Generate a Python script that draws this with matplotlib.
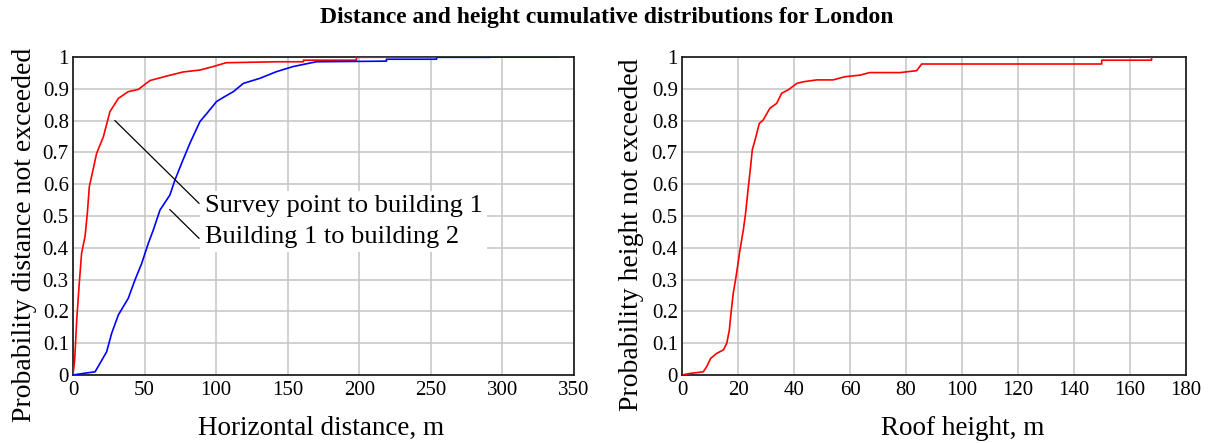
import matplotlib
matplotlib.use("Agg")
import matplotlib.pyplot as plt

# ---------------- data ----------------
sp_to_b1_x = [0, 0.5, 1.2, 2.6, 4.2, 6.0, 8.4, 10.0, 11.4, 16.5, 21.2, 25.8, 31.7, 38.6, 45.6,
              53.8, 65.4, 77, 88.7, 98, 107, 142, 161, 161, 198, 198, 284]
sp_to_b1_y = [0, 0.02, 0.05, 0.173, 0.278, 0.383, 0.435, 0.508, 0.592, 0.697, 0.749, 0.828, 0.870,
              0.891, 0.898, 0.926, 0.940, 0.953, 0.959, 0.970, 0.982, 0.985, 0.985, 0.990, 0.990,
              0.999, 1.0]

b1_to_b2_x = [0, 7.2, 15.4, 18.9, 23.5, 27, 31.7, 38.6, 43.3, 48, 52.6, 56.1, 60.8, 67.7, 71.2,
              75.9, 81.7, 88.7, 94.5, 100.3, 105, 112, 119, 130.6, 142.2, 153.8, 170, 219, 219,
              254, 254, 292, 292, 339]
b1_to_b2_y = [0, 0.005, 0.01, 0.037, 0.073, 0.131, 0.189, 0.241, 0.299, 0.351, 0.414, 0.456,
              0.519, 0.566, 0.613, 0.666, 0.729, 0.797, 0.828, 0.860, 0.873, 0.891, 0.917, 0.933,
              0.954, 0.970, 0.985, 0.987, 0.993, 0.993, 0.999, 0.999, 1.0, 1.0]

roof_x = [0, 2.9, 7.6, 8.8, 10.2, 12.4, 14.8, 16.0, 16.9, 17.5, 18.3, 19.3, 20.7, 21.9, 22.7,
          23.7, 24.5, 25.1, 26.4, 27.6, 29.0, 31.4, 33.8, 35.6, 38.0, 41.0, 43.3, 48.1, 54.0,
          58.2, 63.6, 67.0, 77.9, 83.8, 85.6, 149.9, 149.9, 167.7, 167.7]
roof_y = [0, 0.005, 0.01, 0.026, 0.052, 0.068, 0.079, 0.10, 0.141, 0.194, 0.257, 0.309, 0.393,
          0.456, 0.508, 0.592, 0.655, 0.708, 0.749, 0.791, 0.802, 0.839, 0.854, 0.886, 0.897,
          0.917, 0.922, 0.928, 0.928, 0.938, 0.943, 0.951, 0.951, 0.957, 0.978, 0.978, 0.990,
          0.990, 1.0]

y_ticks = [0, 0.1, 0.2, 0.3, 0.4, 0.5, 0.6, 0.7, 0.8, 0.9, 1]
y_tick_labels = ["0", "0.1", "0.2", "0.3", "0.4", "0.5", "0.6", "0.7", "0.8", "0.9", "1"]
left_x_ticks = [0, 50, 100, 150, 200, 250, 300, 350]
right_x_ticks = [0, 20, 40, 60, 80, 100, 120, 140, 160, 180]

title = "Distance and height cumulative distributions for London"
legend_lines = ["Survey point to building 1", "Building 1 to building 2"]

# ---------------- figure ----------------
FONT = "Liberation Serif"
plt.rcParams["font.family"] = FONT

fig = plt.figure(figsize=(12.14, 4.43), dpi=100)
ax1 = fig.add_axes([73 / 1214, 1 - 375 / 443, (574 - 73) / 1214, (375 - 57) / 443])
ax2 = fig.add_axes([682 / 1214, 1 - 375 / 443, (1186 - 682) / 1214, (375 - 57) / 443])

fig.text(0.5, 1 - 18 / 443, title, ha="center", va="center", fontsize=17,
         fontweight="bold", family=FONT)

for ax, xt, xl, yl, xlx, ylx in [(ax1, left_x_ticks, "Horizontal distance, m",
                                  "Probability distance not exceeded", 0.495, -36 / 501),
                                 (ax2, right_x_ticks, "Roof height, m",
                                  "Probability height not exceeded", 0.557, -38 / 504)]:
    ax.set_xlim(xt[0], xt[-1])
    ax.set_ylim(0, 1)
    ax.set_xticks(xt)
    ax.set_xticklabels([str(v) for v in xt])
    ax.set_yticks(y_ticks)
    ax.set_yticklabels(y_tick_labels)
    ax.tick_params(length=0, labelsize=15, pad=4, colors="black")
    ax.tick_params(axis="y", pad=3)
    ax.grid(True, color="#c8c8c8", linewidth=1.2)
    ax.set_axisbelow(True)
    for s in ax.spines.values():
        s.set_linewidth(1.3)
        s.set_color("#222222")
    ax.set_xlabel(xl, fontsize=19.5)
    ax.set_ylabel(yl, fontsize=20)
    ax.xaxis.set_label_coords(xlx, -41 / 318)
    ax.yaxis.set_label_coords(ylx, 0.44)

ax1.plot(sp_to_b1_x, sp_to_b1_y, color="#ff0000", linewidth=1.2, zorder=3)
ax1.plot(b1_to_b2_x, b1_to_b2_y, color="#0000ff", linewidth=1.2, zorder=3)
ax2.plot(roof_x, roof_y, color="#ff0000", linewidth=1.2, zorder=3)

# annotation
ax1.text(92, 0.483, "\n".join(legend_lines), fontsize=19, ha="left", va="center",
         linespacing=1.5, zorder=4,
         bbox=dict(facecolor="white", edgecolor="none", pad=3))
ax1.plot([29.3, 88], [0.80, 0.54], color="black", linewidth=0.9, zorder=5)
ax1.plot([67.7, 88], [0.52, 0.43], color="black", linewidth=0.9, zorder=5)

fig.savefig("out.png", dpi=100)
